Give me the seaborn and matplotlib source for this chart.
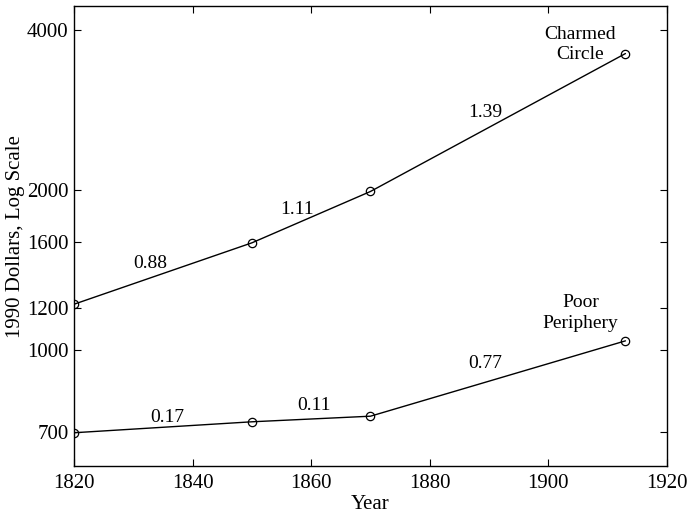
import numpy as np
import pandas as pd
import seaborn as sns
import matplotlib.pyplot as plt
from matplotlib.ticker import FixedLocator, NullLocator, FixedFormatter

# data
years = [1820, 1850, 1870, 1913]
charmed = [1220, 1592, 1989, 3616]
poor = [699, 733, 751, 1041]

# growth rates per segment (label text, x, y)
charmed_rates = ["0.88", "1.11", "1.39"]
charmed_rate_x = [1832.8, 1857.6, 1889.4]
charmed_rate_y = [1458, 1842, 2804]
poor_rates = ["0.17", "0.11", "0.77"]
poor_rate_x = [1835.8, 1860.5, 1889.4]
poor_rate_y = [748, 788, 945]

yticks = [700, 1000, 1200, 1600, 2000, 4000]
xticks = [1820, 1840, 1860, 1880, 1900, 1920]

df = pd.DataFrame({
    "Year": years * 2,
    "Value": charmed + poor,
    "Group": ["Charmed Circle"] * 4 + ["Poor Periphery"] * 4,
})

sns.set_style("ticks")
plt.rcParams["font.family"] = ["Liberation Serif", "DejaVu Serif"]
plt.rcParams["text.color"] = "black"
plt.rcParams["axes.labelcolor"] = "black"
plt.rcParams["xtick.color"] = "black"
plt.rcParams["ytick.color"] = "black"
plt.rcParams["axes.edgecolor"] = "black"

fig = plt.figure(figsize=(6.89, 5.15), dpi=100)
ax = fig.add_axes([0.1074, 0.095, 0.8606, 0.893])

sns.lineplot(data=df, x="Year", y="Value", units="Group", estimator=None,
             color="black", linewidth=1.0, marker="o", markersize=6,
             markerfacecolor="none", markeredgecolor="black",
             markeredgewidth=0.9, ax=ax)

ax.set_yscale("log")
ax.set_xlim(1820, 1920)
ax.set_ylim(605, 4440)
ax.yaxis.set_major_locator(FixedLocator(yticks))
ax.yaxis.set_major_formatter(FixedFormatter([str(t) for t in yticks]))
ax.yaxis.set_minor_locator(NullLocator())
ax.set_xticks(xticks)
ax.tick_params(axis="both", which="major", labelsize=15, length=5, width=0.8,
               top=True, right=True, direction="in", pad=4)
ax.tick_params(axis="x", pad=6)

ax.set_xlabel("Year", fontsize=15, labelpad=1)
ax.set_ylabel("1990 Dollars, Log Scale", fontsize=15, labelpad=1)

for s in ax.spines.values():
    s.set_linewidth(1.0)

for t, x, y in zip(charmed_rates, charmed_rate_x, charmed_rate_y):
    ax.text(x, y, t, fontsize=14, ha="center", va="center")
for t, x, y in zip(poor_rates, poor_rate_x, poor_rate_y):
    ax.text(x, y, t, fontsize=14, ha="center", va="center")

ax.text(1905.4, 3764, "Charmed\nCircle", fontsize=14, ha="center", va="center",
        linespacing=1.25)
ax.text(1905.4, 1174, "Poor\nPeriphery", fontsize=14, ha="center", va="center",
        linespacing=1.25)

fig.savefig("out.png", dpi=100)
